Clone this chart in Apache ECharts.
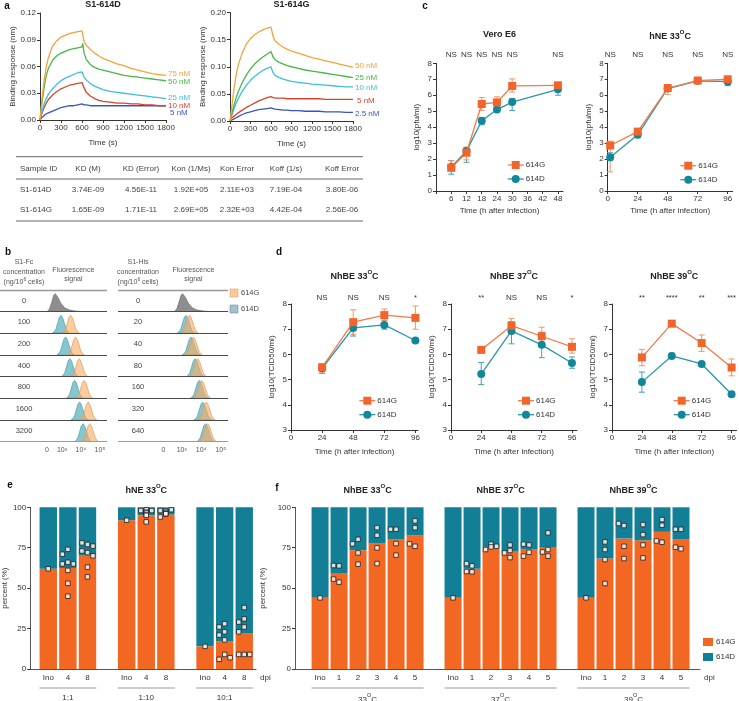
<!DOCTYPE html>
<html><head><meta charset="utf-8">
<script src="https://cdn.jsdelivr.net/npm/echarts@6/dist/echarts.min.js"></script>
<style>html,body{margin:0;padding:0;background:#fff}#c{width:739px;height:701px}</style>
</head><body><div id="c"></div>
<script>
// ================= DATA =================
// ---- panel a: binding kinetics ----
const kinT = [0,15,30,60,90,120,180,240,300,360,420,480,540,600,610,630,660,720,780,840,900,1000,1100,1200,1300,1400,1500,1600,1700,1800];
const kinDNames = ['75 nM','50 nM','25 nM','10 nM','5 nM'];
const kinD75 = [0,0.012,0.025,0.045,0.060,0.070,0.083,0.089,0.093,0.095,0.097,0.098,0.099,0.100,0.096,0.088,0.084,0.079,0.075,0.072,0.069,0.066,0.063,0.061,0.058,0.056,0.054,0.052,0.051,0.050];
const kinD50 = [0,0.010,0.020,0.037,0.050,0.058,0.067,0.072,0.075,0.077,0.079,0.080,0.081,0.082,0.086,0.075,0.068,0.062,0.059,0.057,0.056,0.054,0.052,0.050,0.049,0.048,0.047,0.046,0.045,0.044];
const kinD25 = [0,0.005,0.010,0.018,0.024,0.029,0.035,0.040,0.044,0.047,0.049,0.051,0.053,0.054,0.053,0.048,0.045,0.041,0.038,0.036,0.034,0.032,0.031,0.030,0.029,0.028,0.027,0.026,0.025,0.024];
const kinD10 = [0,0.004,0.008,0.014,0.019,0.023,0.028,0.032,0.035,0.037,0.039,0.040,0.041,0.042,0.040,0.036,0.031,0.027,0.024,0.022,0.021,0.020,0.019,0.019,0.018,0.018,0.017,0.017,0.016,0.016];
const kinD5  = [0,0.002,0.003,0.005,0.007,0.008,0.010,0.012,0.014,0.015,0.016,0.016,0.017,0.018,0.018,0.017,0.017,0.016,0.016,0.016,0.016,0.016,0.016,0.016,0.016,0.016,0.016,0.016,0.016,0.016];
const kinGNames = ['50 nM','25 nM','10 nM','5 nM','2.5 nM'];
const kinG50 = [0,0.015,0.030,0.060,0.085,0.103,0.126,0.142,0.152,0.159,0.164,0.168,0.171,0.173,0.168,0.156,0.148,0.141,0.136,0.132,0.129,0.125,0.121,0.117,0.114,0.111,0.108,0.105,0.102,0.099];
const kinG25 = [0,0.008,0.016,0.030,0.043,0.054,0.071,0.085,0.096,0.105,0.112,0.118,0.123,0.128,0.125,0.118,0.113,0.108,0.105,0.102,0.100,0.097,0.094,0.092,0.090,0.088,0.086,0.084,0.082,0.080];
const kinG10 = [0,0.006,0.012,0.023,0.033,0.041,0.055,0.066,0.075,0.082,0.088,0.093,0.097,0.100,0.096,0.089,0.084,0.080,0.077,0.075,0.073,0.071,0.070,0.068,0.067,0.066,0.065,0.064,0.063,0.063];
const kinG5  = [0.004,0.005,0.006,0.009,0.012,0.015,0.020,0.025,0.029,0.033,0.037,0.040,0.043,0.045,0.045,0.043,0.042,0.042,0.042,0.041,0.041,0.041,0.041,0.041,0.041,0.040,0.040,0.040,0.040,0.040];
const kinG2p5= [0,0.001,0.002,0.004,0.006,0.008,0.012,0.015,0.017,0.019,0.021,0.022,0.023,0.024,0.024,0.023,0.022,0.021,0.020,0.020,0.019,0.019,0.018,0.018,0.018,0.017,0.017,0.017,0.016,0.016];

// ---- table ----
const tblHead = ['Sample ID','KD (M)','KD (Error)','Kon (1/Ms)','Kon Error','Koff (1/s)','Koff Error'];
const tblRow614D = ['S1-614D','3.74E-09','4.56E-11','1.92E+05','2.11E+03','7.19E-04','3.80E-06'];
const tblRow614G = ['S1-614G','1.65E-09','1.71E-11','2.69E+05','2.32E+03','4.42E-04','2.56E-06'];

// ---- panel b: flow histograms (peak positions in log10 display units) ----
const fcConc  = ['0','100','200','400','800','1600','3200'];
const hisConc = ['0','20','40','80','160','320','640'];
const fcGreyPeak = 2.65, hisGreyPeak = 3.05;
const fcPeak614D  = [2.95,3.19,3.42,3.67,3.93,4.11];
const fcPeak614G  = [3.46,3.72,3.91,4.17,4.38,4.47];
const hisPeak614D = [3.22,3.48,3.69,3.90,4.08,4.22];
const hisPeak614G = [3.40,3.60,3.82,4.03,4.26,4.33];
const histOffsets = [-0.45,-0.36,-0.27,-0.18,-0.09,0,0.09,0.18,0.27,0.36,0.45];
const histShape   = [0,0.06,0.22,0.55,0.88,1,0.86,0.55,0.24,0.07,0];
const greyOffsets = [-0.42,-0.3,-0.18,-0.08,0,0.12,0.3,0.5,0.75,1.05,1.35];
const greyShape   = [0,0.15,0.55,0.92,1,0.82,0.45,0.2,0.08,0.02,0];
const fcAxisVals  = [2.21,3,4,5];
const hisAxisVals = [2.07,3,4,5];
const fluorTicks  = ['0','10³','10⁴','10⁵'];

// ---- panel c ----
const veroX = [6,12,18,24,30,48];
const vero614G = [1.45,2.4,5.45,5.55,6.58,6.62], vero614GLo=[1.3,1.95,5.05,5.2,6.2,6.5], vero614GHi=[1.9,2.75,5.85,5.9,7.02,6.75];
const vero614D = [1.5,2.5,4.4,5.1,5.57,6.37],   vero614DLo=[1.05,1.8,4.15,5.0,5.05,6.0], vero614DHi=[1.9,2.7,4.6,5.2,5.8,6.6];
const veroSig = ['NS','NS','NS','NS','NS','NS'];
const hneX = [2,24,48,72,96];
const hne614G = [2.85,3.72,6.45,6.92,7.0], hne614GLo=[1.2,3.6,6.05,6.8,6.9], hne614GHi=[3.12,3.85,6.6,7.05,7.1];
const hne614D = [2.12,3.52,6.42,6.9,6.85], hne614DLo=[1.9,3.38,6.3,6.8,6.6], hne614DHi=[2.4,3.65,6.55,7.0,7.05];
const hneSig = ['NS','NS','NS','NS','NS'];

// ---- panel d ----
const nhX = [24,48,72,96];
const nh33G=[5.49,7.28,7.56,7.45], nh33GLo=[5.3,6.8,7.36,7.0], nh33GHi=[5.62,7.77,7.8,7.92];
const nh33D=[5.45,7.05,7.17,6.55], nh33DLo=[5.25,6.73,7.0,6.5], nh33DHi=[5.6,7.3,7.35,6.6];
const nh33Sig=['NS','NS','NS','*'];
const nh37G=[6.18,7.14,6.72,6.3], nh37GLo=[6.1,6.95,6.4,6.05], nh37GHi=[6.25,7.42,7.08,6.62];
const nh37D=[5.22,6.93,6.38,5.66], nh37DLo=[4.8,6.42,5.87,5.45], nh37DHi=[5.68,7.3,6.88,5.9];
const nh37Sig=['**','NS','NS','*'];
const nh39G=[5.88,7.22,6.45,5.48], nh39GLo=[5.55,7.1,6.12,5.15], nh39GHi=[6.2,7.33,6.77,5.82];
const nh39D=[4.9,5.94,5.62,4.42], nh39DLo=[4.5,5.85,5.57,4.33], nh39DHi=[5.3,6.05,5.68,4.52];
const nh39Sig=['**','****','**','***'];

// ---- panel e ----
const eCats = ['Ino','4','8'];
const eRatios = ['1:1','1:10','10:1'];
const e614G = [[62,62.5,70.5],[92,95,95.5],[14,17,22]];
const eDots = [
  [[62],[74,71,66,65,65,61,53,45],[77,78,76,72,73,70,63,57]],
  [[92],[98.5,98,98,97,96.5,95.5,95,91],[97,98,98.5,97.5,96.5,96,94,96]],
  [[14],[28,23,26,21,18,9,6,7],[31,38,29,26,23,9,9,9]]
];
// ---- panel f ----
const fCats = ['Ino','1','2','3','4','5'];
const fTemps = ['33','37','39'];
const f614G = [[44,59.3,73.5,77.6,80,82.7],[44,62,75.5,72.6,74,75],[44,68.3,80.7,79.6,84.8,80.2]];
const fDots = [
  [[44],[63.8,64,53.7,55.6],[80.2,77.4,71.8,64.8],[87.4,82.7,74.9,65.2],[86.4,86.4,77.6,70.4],[91.6,87.4,75.9,77.4]],
  [[44],[63.8,65.2,60.1,60.3],[77.2,73.9,75.9,75.5],[76.7,73.3,71.8,68.9],[76.7,77.2,72.2,69.8],[84.2,73.9,72.4,69.8]],
  [[44],[78.6,73.9,67.7,52.9],[88.7,90,75.9,68.3],[89.3,83.1,76.7,68.7],[92.4,88.9,78.4,79.2],[86.4,86.4,74.3,75.3]]
];

// ================= BUILD =================
const FONT = '"Liberation Sans Narrow","Liberation Sans",Arial,sans-serif';
const TXT = '#333';
const COL_G = '#f2652a', COL_G_LINE = '#f47a48', COL_G_ERR = '#f59268';
const COL_D = '#13869c', COL_D_LINE = '#2795ab', COL_D_ERR = '#3fa2b6';
const BAR_G = '#f26722', BAR_D = '#127f97';

const grids=[], xAxes=[], yAxes=[], series=[];
const P = {};
function ax(o){
  const base = {type:'value', splitLine:{show:false},
    axisLine:{show:true,onZero:false,lineStyle:{color:'#333',width:1}},
    axisTick:{show:true,length:3,lineStyle:{color:'#333',width:1}},
    axisLabel:{fontSize:8,color:TXT,fontFamily:FONT,margin:4},
    nameTextStyle:{fontSize:8,color:TXT,fontFamily:FONT}};
  for (const k in o){
    if (base[k] && typeof base[k]==='object' && o[k] && typeof o[k]==='object' && !Array.isArray(o[k])) base[k]=Object.assign({},base[k],o[k]);
    else base[k]=o[k];
  }
  return base;
}
function addPanel(key, grid, xa, ya){
  const gi = grids.push(Object.assign({containLabel:false}, grid))-1;
  xa.gridIndex=gi; ya.gridIndex=gi;
  const xi = xAxes.push(xa)-1, yi = yAxes.push(ya)-1;
  P[key] = {gi, xi, yi, grid};
  return P[key];
}

// ---- a ----
const kinColors = ['#f7a23b','#48b748','#3dbfd8','#d9432b','#3955c4'];
function kinPanel(key, grid, ymax, yint, names, curves, offs, nameGap){
  const p = addPanel(key, grid,
    ax({min:0,max:1800,interval:300,name:'Time (s)',nameLocation:'middle',nameGap:19,axisLabel:{formatter:v=>String(v)}}),
    ax({min:0,max:ymax,interval:yint,name:'Binding response (nm)',nameLocation:'middle',nameGap,
        axisLabel:{formatter:v=>v.toFixed(2)}}));
  curves.forEach((c,k)=>series.push({type:'line', name:names[k], xAxisIndex:p.xi, yAxisIndex:p.yi,
    data:kinT.map((t,j)=>[t,c[j]]), symbol:'none', showSymbol:false,
    lineStyle:{width:1.3,color:kinColors[k]}, itemStyle:{color:kinColors[k]},
    endLabel:{show:true, formatter:names[k], color:kinColors[k], fontSize:8, fontFamily:FONT, offset:offs[k], distance:2},
    z:10-k, silent:true}));
}
kinPanel('aD',{left:40,top:13,width:126,height:107},0.12,0.03,kinDNames,[kinD75,kinD50,kinD25,kinD10,kinD5],
  [[0,-2],[0,1],[0,-1],[0,0],[2,7]],23);
kinPanel('aG',{left:230,top:12.5,width:123,height:108.5},0.20,0.05,kinGNames,[kinG50,kinG25,kinG10,kinG5,kinG2p5],
  [[0,-1],[0,0],[0,1],[2,1],[0,1]],21);

// ---- b ----
const HIST_H = 0.82;
function histSeries(p, peaks, rowStart, offsets, shape, fill, stroke, z, extra){
  return Object.assign({type:'custom', xAxisIndex:p.xi, yAxisIndex:p.yi, silent:true, z,
    data:peaks.map((pk,i)=>[pk,rowStart+i]), encode:{x:0,y:1},
    renderItem:(params,api)=>{
      const pk=api.value(0), row=api.value(1);
      const pts=offsets.map((o,k)=>api.coord([pk+o, -row+shape[k]*HIST_H]));
      return {type:'polygon', shape:{points:pts}, style:{fill, stroke, lineWidth:0.7}};
    }}, extra||{});
}
function histPanel(key, left, width, axisVals, greyPeak, peaksD, peaksG){
  const p = addPanel(key, {left, top:289.8, width, height:151.7},
    ax({min:-0.26,max:5.37, axisLine:{show:false}, axisTick:{show:false},
        axisLabel:{customValues:axisVals, fontSize:7, color:'#555', margin:5,
          formatter:v=>{let b=0;axisVals.forEach((a,i)=>{if(Math.abs(a-v)<Math.abs(axisVals[b]-v))b=i;});return fluorTicks[b];}}}),
    ax({min:-6,max:1,show:false}));
  const lines=[{yAxis:1,lineStyle:{color:'#999',width:1.3,type:'solid'}}];
  for(let r=0;r<6;r++) lines.push({yAxis:-r,lineStyle:{color:'#4a4a4a',width:1,type:'solid'}});
  lines.push({yAxis:-6,lineStyle:{color:'#9a9a9a',width:1,type:'solid'}});
  series.push(histSeries(p,[greyPeak],0,greyOffsets,greyShape,'#8e8e8e','#6e6e6e',3,
    {markLine:{silent:true,symbol:['none','none'],label:{show:false},data:lines,animation:false}}));
  series.push(histSeries(p,peaksD,1,histOffsets,histShape,'rgba(88,178,188,0.72)','#4d9aa6',3));
  series.push(histSeries(p,peaksG,1,histOffsets,histShape,'rgba(247,172,100,0.62)','#e3965a',4));
  return p;
}
histPanel('bL',0,107,fcAxisVals,fcGreyPeak,fcPeak614D,fcPeak614G);
histPanel('bR',118,110,hisAxisVals,hisGreyPeak,hisPeak614D,hisPeak614G);

// ---- c, d ----
function errSeries(p, x, lo, hi, color){
  return {type:'custom', xAxisIndex:p.xi, yAxisIndex:p.yi, silent:true, z:3,
    data:x.map((v,i)=>[v,lo[i],hi[i]]), encode:{x:0,y:[1,2]},
    renderItem:(params,api)=>{
      const a=api.coord([api.value(0),api.value(1)]), b=api.coord([api.value(0),api.value(2)]), w=3;
      const st={stroke:color,lineWidth:1};
      return {type:'group',children:[
        {type:'line',shape:{x1:a[0],y1:a[1],x2:b[0],y2:b[1]},style:st},
        {type:'line',shape:{x1:a[0]-w,y1:a[1],x2:a[0]+w,y2:a[1]},style:st},
        {type:'line',shape:{x1:b[0]-w,y1:b[1],x2:b[0]+w,y2:b[1]},style:st}]};
    }};
}
function growthPanel(key, grid, xa, ya, x, g, glo, ghi, d, dlo, dhi){
  const p = addPanel(key, grid, ax(xa), ax(ya));
  series.push(errSeries(p,x,dlo,dhi,COL_D_ERR));
  series.push({type:'line',name:'614D',xAxisIndex:p.xi,yAxisIndex:p.yi,data:x.map((v,i)=>[v,d[i]]),
    symbol:'circle',symbolSize:8,lineStyle:{color:COL_D_LINE,width:1.3},itemStyle:{color:COL_D},z:4,silent:true});
  series.push(errSeries(p,x,glo,ghi,COL_G_ERR));
  series.push({type:'line',name:'614G',xAxisIndex:p.xi,yAxisIndex:p.yi,data:x.map((v,i)=>[v,g[i]]),
    symbol:'rect',symbolSize:8,lineStyle:{color:COL_G_LINE,width:1.3},itemStyle:{color:COL_G},z:5,silent:true});
  return p;
}
const tName = 'Time (h after infection)';
growthPanel('cV',{left:436,top:63.3,width:127,height:127.7},
  {min:0,max:50,name:tName,nameLocation:'middle',nameGap:16,axisLabel:{customValues:[6,12,18,24,30,36,42,48]},axisTick:{customValues:[0,6,12,18,24,30,36,42,48]}},
  {min:0,max:8,interval:1,name:'log10(pfu/ml)',nameLocation:'middle',nameGap:15},
  veroX,vero614G,vero614GLo,vero614GHi,vero614D,vero614DLo,vero614DHi);
growthPanel('cH',{left:607.7,top:63.3,width:125,height:127.7},
  {min:0,max:100,name:tName,nameLocation:'middle',nameGap:16,axisLabel:{customValues:[0,24,48,72,96]},axisTick:{customValues:[0,24,48,72,96]}},
  {min:0,max:8,interval:1,name:'log10(pfu/ml)',nameLocation:'middle',nameGap:15},
  hneX,hne614G,hne614GLo,hne614GHi,hne614D,hne614DLo,hne614DHi);
const dX = {min:0,name:tName,nameLocation:'middle',nameGap:18,axisLabel:{customValues:[0,24,48,72,96]},axisTick:{customValues:[0,24,48,72,96]}};
const dY = {min:3,max:8,interval:1,name:'log10(TCID50/ml)',nameLocation:'middle',nameGap:15};
growthPanel('d33',{left:291,top:304,width:127,height:126},Object.assign({max:98},dX),dY,nhX,nh33G,nh33GLo,nh33GHi,nh33D,nh33DLo,nh33DHi);
growthPanel('d37',{left:451,top:304,width:126,height:126},Object.assign({max:100},dX),dY,nhX,nh37G,nh37GLo,nh37GHi,nh37D,nh37DLo,nh37DHi);
growthPanel('d39',{left:612,top:304,width:125,height:126},Object.assign({max:100},dX),dY,nhX,nh39G,nh39GLo,nh39GHi,nh39D,nh39DLo,nh39DHi);

// ---- e, f ----
function swarm(vals, thr){
  const placed=[];
  return vals.map(v=>{
    for (const s of [0,-1,1]){
      if(!placed.some(q=>q.s===s&&Math.abs(q.v-v)<thr)){placed.push({s,v});return s;}
    }
    placed.push({s:0,v}); return 0;
  });
}
function stackBars(p, data, color, barW){
  return {type:'custom', xAxisIndex:p.xi, yAxisIndex:p.yi, silent:true, z:2,
    data, encode:{x:0,y:[1,2]},
    renderItem:(params,api)=>{
      const x=api.value(0), lo=api.value(1), hi=lo+api.value(2);
      const a=api.coord([x,lo]), b=api.coord([x,hi]);
      return {type:'rect', shape:{x:a[0]-barW/2, y:b[1], width:barW, height:a[1]-b[1]}, style:{fill:color}};
    }};
}
function stackPanel(key, grid, xmin, xmax, cats, groups, gVals, dots, dx, barW){
  const pos=[], lab={};
  groups.forEach((g,gi)=>cats.forEach((c,i)=>{const q=gi*(cats.length+1)+i;pos.push(q);lab[q]=c;}));
  const p = addPanel(key, grid,
    ax({min:xmin,max:xmax,axisTick:{show:false},axisLine:{lineStyle:{color:'#555',width:1}},
        axisLabel:{customValues:pos,margin:5,formatter:v=>lab[Math.round(v)]||''}}),
    ax({min:0,max:100,interval:25,name:'percent (%)',nameLocation:'middle',nameGap:18,axisLine:{lineStyle:{color:'#555',width:1}}}));
  const gData=[], dData=[], dotData=[];
  groups.forEach((g,gi)=>cats.forEach((c,i)=>{
    const q=gi*(cats.length+1)+i, v=gVals[gi][i];
    gData.push([q,0,v]);          // 614G from 0 to its share
    dData.push([q,v,100-v]);      // 614D stacked on top
    const vals=dots[gi][i], sl=swarm(vals,3.3);
    vals.forEach((dv,k)=>dotData.push([q+sl[k]*dx,dv]));
  }));
  series.push(stackBars(p,gData,BAR_G,barW));
  series.push(stackBars(p,dData,BAR_D,barW));
  series.push({type:'scatter',xAxisIndex:p.xi,yAxisIndex:p.yi,data:dotData,symbol:'rect',symbolSize:4.5,
    itemStyle:{color:'#fff',borderColor:'#222',borderWidth:1},z:6,silent:true});
  p.cats=cats; p.groups=groups; p.xmax=xmax;
  return p;
}
stackPanel('e',{left:30,top:507.3,width:226,height:161.7},-0.92,10.6,eCats,eRatios,e614G,eDots,0.28,17.4);
stackPanel('f',{left:295,top:507.3,width:405,height:161.7},-1.32,20,fCats,fTemps,f614G,fDots,0.29,17);

const chart = echarts.init(document.getElementById('c'), null, {renderer:'canvas', width:739, height:701});
chart.setOption({animation:false, backgroundColor:'#fff', textStyle:{fontFamily:FONT},
  grid:grids, xAxis:xAxes, yAxis:yAxes, series});

// ================= ANNOTATIONS =================
const G=[];
function T(x,y,text,o){
  const st=Object.assign({text,fill:TXT,fontSize:8,fontFamily:FONT,align:'center',verticalAlign:'middle'},o||{});
  st.textAlign=st.align; st.textVerticalAlign=st.verticalAlign;
  return {type:'text',x,y,silent:true,z:100,style:st};
}
function L(x1,y1,x2,y2,color,w){return {type:'line',silent:true,z:100,shape:{x1,y1,x2,y2},style:{stroke:color,lineWidth:w||1}};}
const px=(k,v)=>chart.convertToPixel({xAxisIndex:P[k].xi},v);
const py=(k,v)=>chart.convertToPixel({yAxisIndex:P[k].yi},v);
const BOLD={fontWeight:'bold',fontSize:9,fill:'#222'};
const supRich={n:{fontSize:9,fontWeight:'bold',fontFamily:FONT,fill:'#222',verticalAlign:'bottom',lineHeight:12},
               s:{fontSize:6,fontWeight:'bold',fontFamily:FONT,fill:'#222',verticalAlign:'top',lineHeight:12}};
function supTitle(x,y,a,b,c){return T(x,y,'{n|'+a+'}{s|'+b+'}{n|'+c+'}',{rich:supRich});}
const supRichN={n:{fontSize:8,fontFamily:FONT,fill:TXT,verticalAlign:'bottom',lineHeight:11},
                s:{fontSize:5.5,fontFamily:FONT,fill:TXT,verticalAlign:'top',lineHeight:11}};

// letters
[['a',7,6],['b',8,252],['c',425,6],['d',279,252],['e',10,485],['f',277,488]].forEach(l=>G.push(T(l[1],l[2],l[0],{fontWeight:'bold',fontSize:10,fill:'#111'})));

// a titles
G.push(T(px('aD',900),5,'S1-614D',BOLD));
G.push(T(px('aG',900),5,'S1-614G',BOLD));

// table
const colX=[20,88,141,191,237,286,342];
G.push(L(16,156.7,363,156.7,'#666',1));
G.push(L(16,179,363,179,'#666',1));
G.push(L(16,221,363,221,'#666',1));
[[tblHead,168.3],[tblRow614D,190],[tblRow614G,209.3]].forEach(([row,y])=>row.forEach((t,i)=>
  G.push(T(colX[i],y,t,{align:i===0?'left':'center',fill:'#444',fontSize:8}))));

// b headers, row labels, legend
function bHeader(k, cx, title, rows){
  G.push(T(cx,262,title,{fontSize:7,fill:'#555'}));
  G.push(T(cx,272,'concentration',{fontSize:7,fill:'#555'}));
  G.push(T(cx,282,'(ng/10{s|6} cells)',{fontSize:7,fill:'#555',rich:{s:{fontSize:5,fill:'#555',fontFamily:FONT,verticalAlign:'top',lineHeight:9}}}));
  const fx = px(k,3.6);
  G.push(T(fx,270,'Fluorescence',{fontSize:7,fill:'#555'}));
  G.push(T(fx,279,'signal',{fontSize:7,fill:'#555'}));
  rows.forEach((r,i)=>G.push(T(cx,py(k,-i+0.5),r,{fontSize:7.5,fill:'#444'})));
}
bHeader('bL',24,'S1-Fc',fcConc);
bHeader('bR',138,'S1-His',hisConc);
G.push({type:'rect',silent:true,z:100,shape:{x:230,y:289,width:8,height:8},style:{fill:'#f9c89a',stroke:'#e8a66a',lineWidth:0.6}});
G.push({type:'rect',silent:true,z:100,shape:{x:230,y:305,width:8,height:8},style:{fill:'#a3c0cf',stroke:'#6d96aa',lineWidth:0.6}});
G.push(T(241,293,'614G',{align:'left',fontSize:7.5,fill:'#444'}));
G.push(T(241,309,'614D',{align:'left',fontSize:7.5,fill:'#444'}));

// c, d titles, significance, legends
function lineLegend(k, mx, y1){
  const y2=y1+14;
  G.push(L(mx-8,y1,mx+8,y1,COL_G_LINE,1.3));
  G.push({type:'rect',silent:true,z:101,shape:{x:mx-4,y:y1-4,width:8,height:8},style:{fill:COL_G}});
  G.push(T(mx+10,y1,'614G',{align:'left'}));
  G.push(L(mx-8,y2,mx+8,y2,COL_D_LINE,1.3));
  G.push({type:'circle',silent:true,z:101,shape:{cx:mx,cy:y2,r:4},style:{fill:COL_D}});
  G.push(T(mx+10,y2,'614D',{align:'left'}));
}
function sig(k, xs, labels, y){xs.forEach((x,i)=>G.push(T(px(k,x),y,labels[i],{fontSize:labels[i]==='NS'?8:7.5})));}
G.push(T(px('cV',25),35,'Vero E6',BOLD));
G.push(supTitle(px('cH',50),35,'hNE 33','O','C'));
sig('cV',veroX,veroSig,55); sig('cH',hneX,hneSig,55);
lineLegend('cV',515.7,165); lineLegend('cH',688.3,165.7);
G.push(supTitle(px('d33',49),275,'NhBE 33','O','C'));
G.push(supTitle(px('d37',50),275,'NhBE 37','O','C'));
G.push(supTitle(px('d39',50),275,'NhBE 39','O','C'));
sig('d33',nhX,nh33Sig,298); sig('d37',nhX,nh37Sig,298); sig('d39',nhX,nh39Sig,298);
lineLegend('d33',367.3,400.7); lineLegend('d37',526,400.7); lineLegend('d39',681.7,400.7);

// e, f titles, brackets, dpi, legend
function groupDecor(k, labelFn){
  const p=P[k], n=p.cats.length;
  p.groups.forEach((g,gi)=>{
    const a=gi*(n+1), b=a+n-1;
    const x1=px(k,a-0.45), x2=px(k,b+0.45);
    G.push(L(x1,688,x2,688,'#bbb',1.5));
    G.push(labelFn(g,(x1+x2)/2));
  });
  G.push(T(px(k,p.xmax)+4,678,'dpi',{align:'left'}));
}
G.push(supTitle(px('e',5),489,'hNE 33','O','C'));
groupDecor('e',(g,x)=>T(x,698,g));
fTemps.forEach((t,gi)=>G.push(supTitle(px('f',gi*7+2.5),489,'NhBE '+t,'O','C')));
groupDecor('f',(g,x)=>T(x,698,'{n|'+g+'}{s|O}{n|C}',{rich:supRichN}));
G.push({type:'rect',silent:true,z:100,shape:{x:703,y:638,width:10,height:8},style:{fill:BAR_G}});
G.push({type:'rect',silent:true,z:100,shape:{x:703,y:653,width:10,height:8},style:{fill:BAR_D}});
G.push(T(716,642,'614G',{align:'left'}));
G.push(T(716,657,'614D',{align:'left'}));

chart.setOption({graphic:G});
</script></body></html>
